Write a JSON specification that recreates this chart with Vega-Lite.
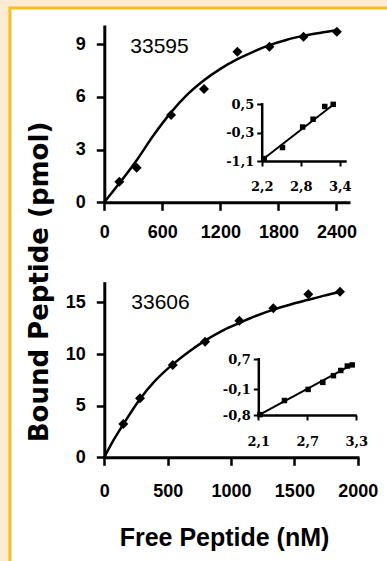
{
  "$schema": "https://vega.github.io/schema/vega-lite/v6.json",
  "width": 380,
  "height": 557,
  "autosize": {"type": "none"},
  "padding": {"left": 10, "top": 8, "right": -3, "bottom": -4},
  "background": "#FBEBD0",
  "config": {
    "view": {"fill": "white", "stroke": "#F4BF1F", "strokeWidth": 3},
    "axis": {"grid": false, "domainColor": "black", "tickColor": "black", "labelColor": "black", "titleColor": "black", "labelFlush": false, "labelOverlap": false}
  },
  "datasets": {
    "pts1": [
      {"free": 155, "bound": 1.17}, {"free": 335, "bound": 1.97}, {"free": 690, "bound": 4.97}, {"free": 1031, "bound": 6.45},
      {"free": 1376, "bound": 8.57}, {"free": 1707, "bound": 8.86}, {"free": 2059, "bound": 9.43}, {"free": 2404, "bound": 9.71}
    ],
    "fit1": [
      {"free": 0, "bound": 0}, {"free": 155, "bound": 1.08}, {"free": 335, "bound": 2.4}, {"free": 507, "bound": 3.8},
      {"free": 690, "bound": 5.12}, {"free": 852, "bound": 6.1}, {"free": 1031, "bound": 6.95}, {"free": 1200, "bound": 7.6},
      {"free": 1376, "bound": 8.15}, {"free": 1550, "bound": 8.6}, {"free": 1707, "bound": 8.95}, {"free": 1880, "bound": 9.25},
      {"free": 2059, "bound": 9.48}, {"free": 2230, "bound": 9.65}, {"free": 2404, "bound": 9.8}
    ],
    "ins1": [
      {"logf": 2.24, "logr": -1.03}, {"logf": 2.52, "logr": -0.72}, {"logf": 2.83, "logr": -0.14},
      {"logf": 2.99, "logr": 0.08}, {"logf": 3.17, "logr": 0.44}, {"logf": 3.3, "logr": 0.5}
    ],
    "insfit1": [{"logf": 2.2, "logr": -1.08}, {"logf": 3.33, "logr": 0.53}],
    "pts2": [
      {"free": 150, "bound": 3.22}, {"free": 282, "bound": 5.71}, {"free": 540, "bound": 8.93}, {"free": 795, "bound": 11.19},
      {"free": 1066, "bound": 13.22}, {"free": 1334, "bound": 14.42}, {"free": 1610, "bound": 15.78}, {"free": 1860, "bound": 16.03}
    ],
    "fit2": [
      {"free": 0, "bound": 0}, {"free": 75, "bound": 1.7}, {"free": 150, "bound": 3.2}, {"free": 282, "bound": 5.65},
      {"free": 400, "bound": 7.4}, {"free": 540, "bound": 9.0}, {"free": 670, "bound": 10.25}, {"free": 795, "bound": 11.3},
      {"free": 930, "bound": 12.25}, {"free": 1066, "bound": 13.0}, {"free": 1200, "bound": 13.7}, {"free": 1334, "bound": 14.3},
      {"free": 1470, "bound": 14.8}, {"free": 1610, "bound": 15.25}, {"free": 1735, "bound": 15.65}, {"free": 1860, "bound": 16.0}
    ],
    "ins2": [
      {"logf": 2.12, "logr": -0.79}, {"logf": 2.42, "logr": -0.41}, {"logf": 2.71, "logr": -0.11}, {"logf": 2.89, "logr": 0.08},
      {"logf": 3.02, "logr": 0.26}, {"logf": 3.11, "logr": 0.4}, {"logf": 3.19, "logr": 0.52}, {"logf": 3.25, "logr": 0.55}
    ],
    "insfit2": [{"logf": 2.1, "logr": -0.81}, {"logf": 3.26, "logr": 0.57}]
  },
  "layer": [
    {
      "encoding": {
        "x": {"field": "free", "type": "quantitative",
          "scale": {"domain": [0, 2540], "range": [94.3, 340], "nice": false, "zero": false},
          "axis": {"orient": "bottom", "offset": -362.7, "values": [0, 600, 1200, 1800, 2400], "format": "d",
            "title": "33595", "titleX": 149, "titleY": -156, "titleAngle": 0, "titleAlign": "center", "titleBaseline": "middle",
            "titleFont": "Liberation Sans", "titleFontSize": 21, "titleFontWeight": "normal",
            "domainWidth": 3, "tickWidth": 2.5, "tickSize": 8, "labelPadding": 13.4,
            "labelFont": "Liberation Sans", "labelFontSize": 18, "labelFontWeight": "bold"}},
        "y": {"field": "bound", "type": "quantitative",
          "scale": {"domain": [0, 10.1], "range": [194.3, 17], "nice": false, "zero": false},
          "axis": {"orient": "left", "offset": -94.3, "values": [0, 3, 6, 9], "format": "d",
            "title": "Bound Peptide (pmol)", "titleX": -56.8, "titleY": 273.5, "titleAngle": -90, "titleAlign": "center", "titleBaseline": "alphabetic",
            "titleFont": "DejaVu Sans", "titleFontSize": 26, "titleFontWeight": "bold",
            "domainWidth": 3, "tickWidth": 2.5, "tickSize": 8, "labelPadding": 11,
            "labelFont": "Liberation Sans", "labelFontSize": 18, "labelFontWeight": "bold"}}
      },
      "layer": [
        {"data": {"name": "fit1"}, "mark": {"type": "line", "color": "black", "strokeWidth": 2.5, "interpolate": "monotone"}},
        {"data": {"name": "pts1"}, "mark": {"type": "point", "shape": "diamond", "filled": true, "color": "black", "opacity": 1, "size": 100}}
      ]
    },
    {
      "encoding": {
        "x": {"field": "logf", "type": "quantitative",
          "scale": {"domain": [2.2, 3.5], "range": [251.7, 336.2], "nice": false, "zero": false},
          "axis": {"orient": "bottom", "offset": -404, "values": [2.2, 2.8, 3.4], "title": null,
            "labelExpr": "replace(replace(format(datum.value, '.1f'), '.', ','), '\u2212', '-')",
            "domainWidth": 2.5, "tickWidth": 2, "tickSize": 5, "labelPadding": 14.5,
            "labelFont": "DejaVu Serif", "labelFontSize": 13, "labelFontWeight": "bold"}},
        "y": {"field": "logr", "type": "quantitative",
          "scale": {"domain": [-1.1, 0.55], "range": [153, 94.6], "nice": false, "zero": false},
          "axis": {"orient": "left", "offset": -251.7, "values": [-1.1, -0.3, 0.5], "title": null,
            "labelExpr": "replace(replace(format(datum.value, '.1f'), '.', ','), '\u2212', '-')",
            "domainWidth": 2.5, "tickWidth": 2, "tickSize": 5, "labelPadding": 3,
            "labelFont": "DejaVu Serif", "labelFontSize": 13, "labelFontWeight": "bold"}}
      },
      "layer": [
        {"data": {"name": "insfit1"}, "mark": {"type": "line", "color": "black", "strokeWidth": 2}},
        {"data": {"name": "ins1"}, "mark": {"type": "point", "shape": "square", "filled": true, "color": "black", "opacity": 1, "size": 30}}
      ]
    },
    {
      "encoding": {
        "x": {"field": "free", "type": "quantitative",
          "scale": {"domain": [0, 2010], "range": [94.3, 349], "nice": false, "zero": false},
          "axis": {"orient": "bottom", "offset": -107.7, "values": [0, 500, 1000, 1500, 2000], "format": "d",
            "title": "Free Peptide (nM)", "titleX": 214, "titleY": 88, "titleAlign": "center", "titleBaseline": "alphabetic",
            "titleFont": "Liberation Sans", "titleFontSize": 25, "titleFontWeight": "bold",
            "domainWidth": 3, "tickWidth": 2.5, "tickSize": 8, "labelPadding": 16.7,
            "labelFont": "Liberation Sans", "labelFontSize": 18, "labelFontWeight": "bold"}},
        "y": {"field": "bound", "type": "quantitative",
          "scale": {"domain": [0, 17], "range": [449.3, 273.7], "nice": false, "zero": false},
          "axis": {"orient": "left", "offset": -94.3, "values": [0, 5, 10, 15], "format": "d",
            "title": "33606", "titleX": 55.7, "titleY": 294.5, "titleAngle": 0, "titleAlign": "center", "titleBaseline": "middle",
            "titleFont": "Liberation Sans", "titleFontSize": 21, "titleFontWeight": "normal",
            "domainWidth": 3, "tickWidth": 2.5, "tickSize": 8, "labelPadding": 11,
            "labelFont": "Liberation Sans", "labelFontSize": 18, "labelFontWeight": "bold"}}
      },
      "layer": [
        {"data": {"name": "fit2"}, "mark": {"type": "line", "color": "black", "strokeWidth": 2.5, "interpolate": "monotone"}},
        {"data": {"name": "pts2"}, "mark": {"type": "point", "shape": "diamond", "filled": true, "color": "black", "opacity": 1, "size": 100}}
      ]
    },
    {
      "encoding": {
        "x": {"field": "logf", "type": "quantitative",
          "scale": {"domain": [2.1, 3.3], "range": [248.3, 346.3], "nice": false, "zero": false},
          "axis": {"orient": "bottom", "offset": -150, "values": [2.1, 2.7, 3.3], "title": null,
            "labelExpr": "replace(replace(format(datum.value, '.1f'), '.', ','), '\u2212', '-')",
            "domainWidth": 2.5, "tickWidth": 2, "tickSize": 5, "labelPadding": 15.5,
            "labelFont": "DejaVu Serif", "labelFontSize": 13, "labelFontWeight": "bold"}},
        "y": {"field": "logr", "type": "quantitative",
          "scale": {"domain": [-0.8, 0.75], "range": [407, 349.5], "nice": false, "zero": false},
          "axis": {"orient": "left", "offset": -248.3, "values": [-0.8, -0.1, 0.7], "title": null,
            "labelExpr": "replace(replace(format(datum.value, '.1f'), '.', ','), '\u2212', '-')",
            "domainWidth": 2.5, "tickWidth": 2, "tickSize": 5, "labelPadding": 3,
            "labelFont": "DejaVu Serif", "labelFontSize": 13, "labelFontWeight": "bold"}}
      },
      "layer": [
        {"data": {"name": "insfit2"}, "mark": {"type": "line", "color": "black", "strokeWidth": 2}},
        {"data": {"name": "ins2"}, "mark": {"type": "point", "shape": "square", "filled": true, "color": "black", "opacity": 1, "size": 30}}
      ]
    }
  ],
  "resolve": {"scale": {"x": "independent", "y": "independent"}, "axis": {"x": "independent", "y": "independent"}}
}
